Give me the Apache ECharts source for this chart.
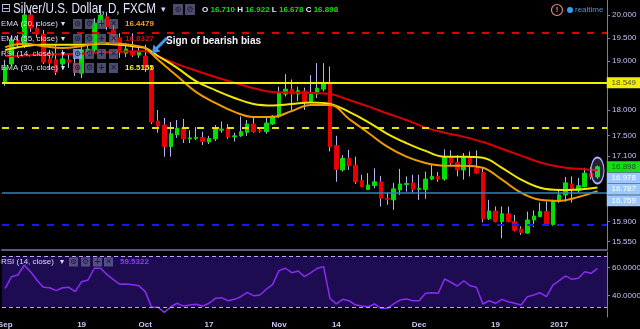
<!DOCTYPE html>
<html><head><meta charset="utf-8">
<script src="https://cdn.jsdelivr.net/npm/echarts@6/dist/echarts.min.js"></script>
<style>html,body{margin:0;padding:0;background:#000;}#c{width:640px;height:329px;}</style>
</head><body><div id="c"></div>
<script>
// ---- categories (FXCM daily bars, weekdays) ----
const dates = [];
(function () {
  const d = new Date(Date.UTC(2016, 8, 1)); const end = Date.UTC(2017, 0, 10);
  while (d.getTime() <= end) { const w = d.getUTCDay(); if (w !== 0 && w !== 6) dates.push(d.toISOString().slice(0, 10)); d.setUTCDate(d.getUTCDate() + 1); }
})();
const categories = dates.concat(['']);
const xTickLabels = {'2016-09-01':'Sep','2016-09-19':'19','2016-10-03':'Oct','2016-10-17':'17','2016-11-01':'Nov','2016-11-14':'14','2016-12-01':'Dec','2016-12-19':'19','2017-01-02':'2017'};

// ---- OHLC: [open, close, low, high] ----
const candles = [
[18.57,18.88,18.49,19.03],[18.94,19.45,18.90,19.56],[19.45,19.37,19.28,19.56],[19.32,20.00,19.28,20.15],[20.00,19.71,19.63,20.11],
[19.71,19.58,19.50,19.85],[19.58,18.98,18.94,19.67],[19.05,18.96,18.82,19.24],[19.03,18.77,18.71,19.35],[18.94,19.05,18.82,19.24],
[19.03,18.98,18.86,19.17],[18.96,18.77,18.69,19.07],[18.75,19.24,18.65,19.35],[19.20,19.26,19.11,19.37],[19.24,19.82,19.20,19.93],
[19.82,20.00,19.76,20.22],[19.96,19.74,19.67,20.07],[19.67,19.45,19.35,19.78],[19.50,19.20,19.07,19.60],[19.17,19.26,19.09,19.39],
[19.20,19.13,19.09,19.60],[19.13,19.20,19.07,19.32],[19.11,18.86,18.77,19.35],[18.82,17.76,17.72,18.90],[17.78,17.68,17.55,18.00],
[17.70,17.28,17.09,17.84],[17.28,17.53,17.09,17.76],[17.51,17.64,17.45,17.80],[17.64,17.43,17.35,17.82],[17.43,17.45,17.35,17.60],
[17.44,17.46,17.41,17.66],[17.46,17.38,17.31,17.57],[17.37,17.44,17.33,17.49],[17.43,17.62,17.39,17.70],[17.60,17.62,17.55,17.77],
[17.64,17.47,17.43,17.72],[17.47,17.49,17.38,17.55],[17.49,17.57,17.47,17.87],[17.56,17.72,17.49,17.80],[17.72,17.57,17.55,17.85],
[17.59,17.58,17.55,17.64],[17.57,17.74,17.53,17.88],[17.72,17.88,17.70,17.90],[17.87,18.34,17.84,18.47],[18.32,18.42,18.27,18.73],
[18.42,18.32,18.00,18.62],[18.32,18.39,18.18,18.47],[18.38,18.17,18.00,18.45],[18.17,18.32,18.14,18.71],[18.32,18.44,18.24,18.96],
[18.42,18.55,18.37,18.96],[18.54,17.28,17.19,18.89],[17.30,16.85,16.62,17.49],[16.84,17.06,16.81,17.12],[17.06,16.92,16.84,17.22],
[16.93,16.62,16.58,17.09],[16.64,16.53,16.52,16.75],[16.48,16.56,16.47,16.78],[16.55,16.62,16.50,16.87],[16.62,16.32,16.17,16.73],
[16.32,16.30,16.20,16.42],[16.29,16.49,16.11,16.60],[16.47,16.58,16.38,16.86],[16.57,16.59,16.44,16.72],[16.60,16.48,16.42,16.75],
[16.48,16.50,16.29,16.75],[16.48,16.67,16.31,16.81],[16.67,16.72,16.65,16.95],[16.72,16.67,16.62,16.80],[16.67,17.08,16.64,17.23],
[17.08,16.97,16.93,17.21],[16.98,16.84,16.72,17.12],[16.84,17.08,16.66,17.16],[17.08,16.95,16.72,17.19],[16.87,16.78,16.77,17.21],
[16.79,15.95,15.89,16.89],[15.95,16.09,15.93,16.29],[16.09,15.90,15.89,16.17],[15.90,16.04,15.61,16.17],[16.04,15.90,15.89,16.17],
[15.90,15.75,15.73,16.02],[15.77,15.71,15.67,15.82],[15.70,15.93,15.69,16.08],[15.93,16.00,15.81,16.10],[15.99,16.08,15.98,16.24],
[16.08,15.86,15.83,16.26],[15.85,16.26,15.83,16.29],[16.26,16.38,16.24,16.47],[16.38,16.60,16.26,16.71],[16.58,16.46,16.24,16.72],
[16.46,16.55,16.42,16.69],[16.53,16.78,16.52,16.88],[16.78,16.72,16.66,16.90],[16.710,16.898,16.678,16.922]
];

// ---- EMA readings: [barIndex, value] ----
const ema55 = [[0,19.11],[3,19.12],[6,19.14],[9,19.15],[12,19.16],[15,19.19],[18,19.20],[21,19.21],[22,19.21],[24,19.10],[27,18.94],[30,18.80],[33,18.67],[36,18.55],[39,18.44],[42,18.36],[45,18.35],[48,18.34],[51,18.32],[54,18.20],[57,18.07],[60,17.93],[63,17.80],[66,17.65],[69,17.55],[72,17.47],[75,17.37],[78,17.24],[81,17.11],[84,16.98],[87,16.90],[90,16.86],[93,16.8327]];
const ema30 = [[0,19.24],[3,19.32],[6,19.35],[9,19.35],[12,19.35],[15,19.37],[18,19.35],[21,19.30],[22,19.28],[24,19.11],[27,18.86],[30,18.58],[33,18.40],[36,18.24],[39,18.12],[42,18.09],[45,18.12],[48,18.15],[51,18.12],[54,17.96],[57,17.76],[60,17.53],[63,17.35],[66,17.20],[69,17.09],[72,17.09],[75,17.07],[78,16.88],[81,16.66],[84,16.51],[87,16.47],[90,16.48],[93,16.5155]];
const ema20 = [[0,19.30],[3,19.37],[6,19.32],[9,19.28],[12,19.32],[15,19.39],[18,19.37],[21,19.32],[22,19.28],[24,19.03],[27,18.69],[30,18.36],[33,18.14],[36,17.96],[39,17.86],[42,17.86],[45,17.98],[48,18.10],[51,18.10],[54,17.82],[57,17.55],[60,17.28],[63,17.09],[66,16.97],[69,16.92],[72,16.92],[75,16.88],[78,16.66],[81,16.42],[84,16.29],[87,16.27],[90,16.34],[93,16.4479]];

// ---- RSI(14) ----
const rsi14 = [45.3,53.6,54.8,61.9,57,51,46.0,45.7,43.6,45.7,46.0,42.9,50.0,51.2,59.6,59.6,55,51.5,48.1,48.4,47.8,47.1,42.9,31.7,31.7,28.1,32.1,34.6,32.6,33.3,33.9,32.6,34.6,38.1,38.6,36.4,37.4,39.3,42.4,40.0,40.5,44.6,48.1,57.9,59.6,56.4,57.6,53.6,56.5,59.6,60.7,38.1,34.1,37.4,36.4,33.5,32.6,32.1,34.1,31.0,31.0,34.1,36.9,37.6,36.4,36.4,41.7,42.1,41.7,51.9,49.6,46.9,50.7,47.1,46.0,34.1,36.4,34.6,37.4,35.7,34.6,33.4,39.3,40.5,42.1,39.3,47.6,50.7,54.1,51.7,52.4,57.1,56.0,59.5322];
const rsiBand = [68.4, 31.7];

// ---- axis ticks & levels ----
const priceTicks = [15.55, 15.9, 17.1, 17.5, 18, 19, 19.5, 20];
const rsiTicks = [40, 60];
const resistanceDash = 19.62;
const supportSolid = 18.549;
const levelDashYellow = 17.64;
const levelCyan = 16.42;
const supportDashBlue = 15.85;
const blueTags = [16.978, 16.787, 16.759];

const FONT = "'Liberation Sans', Arial, sans-serif";
const wickColor = '#b4b4f0', upColor = '#00e000', downColor = '#e80000';
const axisCol = '#7878c0', labCol = '#c4c4f4';
const last = candles[candles.length - 1];
const lastCat = categories[candles.length - 1];
const bodies = candles.map(c => [c[0], c[1], Math.min(c[0], c[1]), Math.max(c[0], c[1])]);
const lastVal = a => a[a.length - 1][1];

function T(x, y, text, fill, font, extra) {
  return Object.assign({type:'text', x:x, y:y, silent:true, z:100,
    style:{text:text, fill:fill, font:font, align:'left', verticalAlign:'middle', textAlign:'left', textVerticalAlign:'middle'}}, extra || {});
}
function boxes(xs, y, w, h, first) {
  const g = ['\u2299', '\u2699', '+', '\u2715'];
  const out = [];
  xs.forEach((x, i) => {
    out.push({type:'rect', silent:true, z:99, shape:{x:x, y:y - h / 2, width:w, height:h},
      style:{fill: (i === 0 && first) ? 'rgba(130,165,235,0.85)' : 'rgba(105,105,150,0.72)'}});
    out.push({type:'text', silent:true, z:100, x:x + w / 2, y:y,
      style:{text:g[i], fill:'#1c1c34', font:"bold 8px 'DejaVu Sans'", align:'center', verticalAlign:'middle', textAlign:'center', textVerticalAlign:'middle'}});
  });
  return out;
}
const legendRows = [
  {y:24, label:'EMA (20, close)', val:lastVal(ema20).toFixed(4), col:'#f0a030'},
  {y:39, label:'EMA (55, close)', val:lastVal(ema55).toFixed(4), col:'#c81414'},
  {y:54, label:'RSI (14, close)', val:'', col:'#fff', hl:true},
  {y:68, label:'EMA (30, close)', val:lastVal(ema30).toFixed(4), col:'#f0f020'}
];
const graphics = [];
graphics.push(T(1, 9, '\u229F', '#c8c8f0', "12px 'DejaVu Sans'"));
graphics.push(T(13, 9, 'Silver/U.S. Dollar, D, FXCM', '#e2e2ff', '15px ' + FONT, {scaleX:0.78}));
graphics.push(T(161, 10, '\u25BE', '#d0d0ff', "9px 'DejaVu Sans'"));
graphics.push(...boxes([173, 185], 9.5, 10, 11, false));
graphics.push({type:'text', x:202, y:9.5, silent:true, z:100, style:{
  text:'{w|O} {g|' + last[0].toFixed(3) + '} {w|H} {g|' + last[3].toFixed(3) + '} {w|L} {g|' + last[2].toFixed(3) + '} {w|C} {g|' + last[1].toFixed(3) + '}',
  font:'bold 8px ' + FONT, fill:'#e0e0ff', align:'left', verticalAlign:'middle', textVerticalAlign:'middle',
  rich:{w:{fill:'#e8e8ff', font:'bold 8px ' + FONT}, g:{fill:'#10e010', font:'bold 8px ' + FONT}}}});
legendRows.forEach(r => {
  graphics.push(T(1, r.y, r.label, '#dcdcff', '8px ' + FONT));
  graphics.push(T(61, r.y, '\u25BE', '#dcdcff', "8px 'DejaVu Sans'"));
  graphics.push(...boxes([73, 85, 97, 109], r.y, 9, 10, r.hl));
  if (r.val) graphics.push(T(125, r.y, r.val, r.col, 'bold 8px ' + FONT));
});
graphics.push(T(1, 262, 'RSI (14, close)', '#dcdcff', '8px ' + FONT));
graphics.push(T(60, 262, '\u25BE', '#dcdcff', "8px 'DejaVu Sans'"));
graphics.push(...boxes([69, 81, 93, 104], 262, 9, 9, false));
graphics.push(T(120, 262, rsi14[rsi14.length - 1].toFixed(4), '#8a3cff', 'bold 8px ' + FONT));
graphics.push(T(166, 41, 'Sign of bearish bias', '#f4f4ff', 'bold 10px ' + FONT));
graphics.push({type:'polygon', silent:true, z:100, shape:{points:[[165.9,36.9],[168.1,39.1],[158.0,49.1],[160.5,51.6],[152,53.5],[153.4,44.5],[155.9,47.0]]}, style:{fill:'#4a94ec'}});
graphics.push({type:'circle', silent:true, z:100, shape:{cx:557, cy:10, r:5.5}, style:{fill:'none', stroke:'#e48a7a', lineWidth:1.2}});
graphics.push({type:'text', silent:true, z:100, x:557, y:10, style:{text:'!', fill:'#e48a7a', font:'bold 8px ' + FONT, align:'center', verticalAlign:'middle', textAlign:'center', textVerticalAlign:'middle'}});
graphics.push({type:'circle', silent:true, z:100, shape:{cx:570, cy:10, r:3}, style:{fill:'#3a9ef0'}});
graphics.push(T(575, 10, 'realtime', '#5a92cc', '8px ' + FONT));

function tag(v, color, textColor, dy) {
  return {name: v.toFixed(3), coord:[lastCat, v], symbol:'rect', symbolSize:[34, 11], symbolOffset:[26.3, dy],
    itemStyle:{color:color}, label:{show:true, position:'inside', formatter:'{b}', color:textColor, fontSize:8, fontFamily:FONT}};
}
const blueOffsets = [15.4, 16.5, 26.4];

const chart = echarts.init(document.getElementById('c'), null, {renderer:'canvas'});
chart.setOption({
  backgroundColor:'#000000',
  animation:false,
  grid:[
    {left:2, right:33, top:0, height:250, outerBoundsMode:'none'},
    {left:2, right:33, top:252, height:65, outerBoundsMode:'none'}
  ],
  xAxis:[
    {type:'category', gridIndex:0, data:categories, boundaryGap:true,
      axisLine:{show:true, onZero:false, lineStyle:{color:'#575b80', width:2}}, axisTick:{show:false}, axisLabel:{show:false}, splitLine:{show:false}},
    {type:'category', gridIndex:1, data:categories, boundaryGap:true,
      axisLine:{show:false, onZero:false}, axisTick:{show:false}, splitLine:{show:false},
      axisLabel:{show:true, interval:(i, v) => v in xTickLabels, formatter:v => xTickLabels[v] || '', color:'#c8c8f8', fontSize:8, fontWeight:'bold', fontFamily:FONT, margin:4}}
  ],
  yAxis:[
    {type:'log', logBase:10, gridIndex:0, position:'right', min:15.408, max:20.336,
      axisLine:{show:true, lineStyle:{color:axisCol}}, splitLine:{show:false},
      axisTick:{show:true, length:3, customValues:priceTicks, lineStyle:{color:axisCol}},
      axisLabel:{show:true, customValues:priceTicks, formatter:v => Number(v).toFixed(3), color:labCol, fontSize:8, fontFamily:FONT, margin:5}},
    {type:'value', gridIndex:1, position:'right', min:24.8, max:71.2,
      axisLine:{show:true, lineStyle:{color:axisCol}}, splitLine:{show:false},
      axisTick:{show:true, length:3, customValues:rsiTicks, lineStyle:{color:axisCol}},
      axisLabel:{show:true, customValues:rsiTicks, formatter:v => Number(v).toFixed(4), color:labCol, fontSize:8, fontFamily:FONT, margin:5}}
  ],
  series:[
    {name:'wicks', type:'candlestick', xAxisIndex:0, yAxisIndex:0, data:candles, barWidth:1, z:2, silent:true,
      itemStyle:{color:wickColor, color0:wickColor, borderColor:wickColor, borderColor0:wickColor, borderColorDoji:wickColor, borderWidth:1}},
    {name:'bodies', type:'candlestick', xAxisIndex:0, yAxisIndex:0, data:bodies, barWidth:4, z:3, silent:true,
      itemStyle:{color:upColor, color0:downColor, borderColor:upColor, borderColor0:downColor, borderColorDoji:upColor, borderWidth:1}},
    {name:'EMA55', type:'line', xAxisIndex:0, yAxisIndex:0, data:ema55, smooth:0.4, symbol:'none', z:4, silent:true,
      lineStyle:{color:'#d80000', width:2},
      markLine:{silent:true, symbol:'none', animation:false, label:{show:false},
        data:[
          {yAxis:resistanceDash, lineStyle:{color:'#e00000', type:[7, 8], width:2}},
          {yAxis:supportSolid, lineStyle:{color:'#f0f000', type:'solid', width:2}},
          {yAxis:levelDashYellow, lineStyle:{color:'#e8e000', type:[7, 8], width:2}},
          {yAxis:levelCyan, lineStyle:{color:'#2a86c6', type:'solid', width:1.5}},
          {yAxis:supportDashBlue, lineStyle:{color:'#1818ff', type:[7, 8], width:2}}
        ]},
      markPoint:{silent:true, animation:false, data:[
        tag(supportSolid, '#f0f000', '#505050', 0),
        tag(last[1], '#10e010', '#2e4a2e', 0),
        tag(blueTags[0], '#9cc8ff', '#ffffff', blueOffsets[0]),
        tag(blueTags[1], '#9cc8ff', '#ffffff', blueOffsets[1]),
        tag(blueTags[2], '#9cc8ff', '#ffffff', blueOffsets[2]),
        {coord:[lastCat, 16.83], symbol:'circle', symbolSize:[13, 26], symbolOffset:[0, 0],
          itemStyle:{color:'rgba(170,170,255,0.2)', borderColor:'#b0b0ff', borderWidth:1.5}, label:{show:false}}
      ]}},
    {name:'EMA30', type:'line', xAxisIndex:0, yAxisIndex:0, data:ema30, smooth:0.4, symbol:'none', z:4, silent:true,
      lineStyle:{color:'#f0e800', width:2}},
    {name:'EMA20', type:'line', xAxisIndex:0, yAxisIndex:0, data:ema20, smooth:0.4, symbol:'none', z:4, silent:true,
      lineStyle:{color:'#f09a00', width:2}},
    {name:'RSI', type:'line', xAxisIndex:1, yAxisIndex:1, data:rsi14, symbol:'none', z:4, silent:true,
      lineStyle:{color:'#8a2cf0', width:1.5},
      markArea:{silent:true, itemStyle:{color:'#1e0c52'}, data:[[{yAxis:rsiBand[0]}, {yAxis:rsiBand[1]}]]},
      markLine:{silent:true, symbol:'none', label:{show:false}, lineStyle:{color:'#b8a8e8', type:[4, 3], width:1},
        data:[{yAxis:rsiBand[0]}, {yAxis:rsiBand[1]}]}}
  ],
  graphic:{elements:graphics}
});
</script>
</body></html>
